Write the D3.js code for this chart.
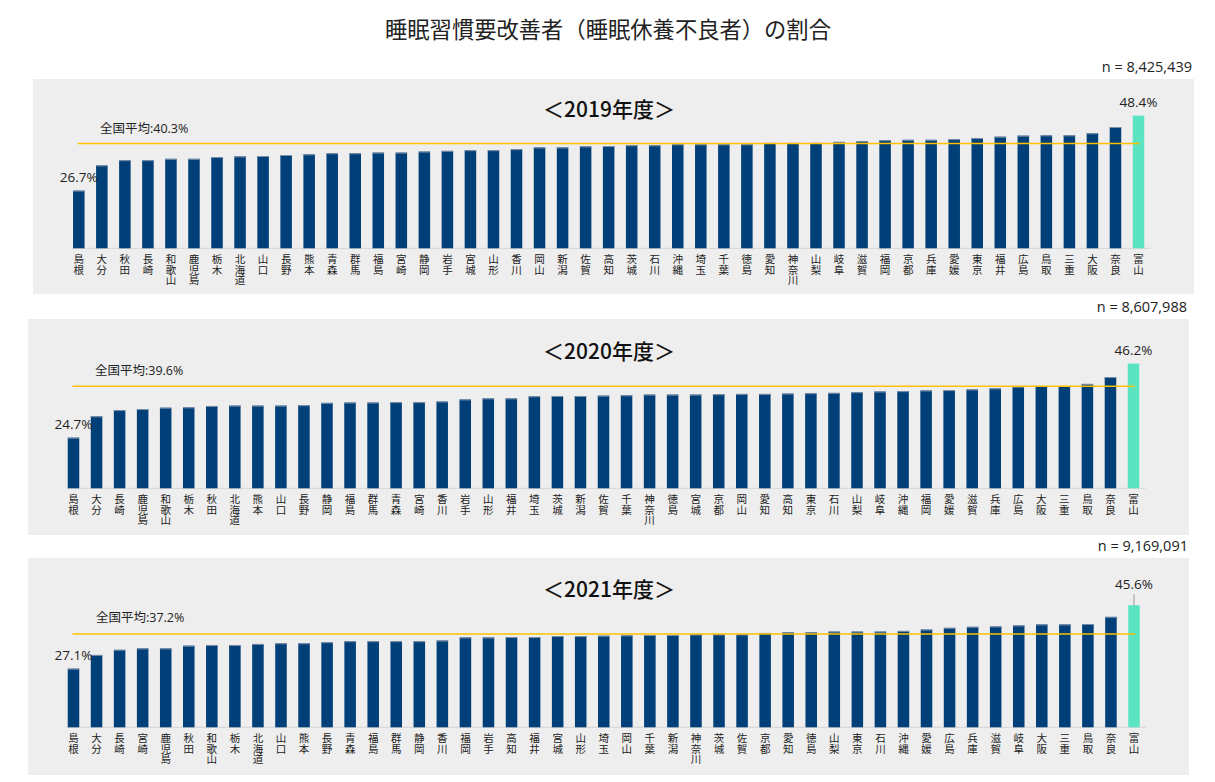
<!DOCTYPE html>
<html lang="ja">
<head>
<meta charset="utf-8">
<script src="https://cdn.jsdelivr.net/npm/d3@7"></script>
<style>
  html, body { margin: 0; padding: 0; background: #fff; }
  svg { display: block; font-family: "Open Sans", "Noto Sans CJK JP", sans-serif; }
  .tick text {
    font-size: 10.5px;
    fill: #222;
    font-family: "Noto Sans CJK JP", sans-serif;
    writing-mode: vertical-rl;
    text-orientation: upright;
    letter-spacing: 0.2px;
  }
</style>
</head>
<body>
<div id="chart"></div>
<script>
// 睡眠習慣要改善者の割合 - three yearly panels, prefectures sorted ascending

const years = ['2019', '2020', '2021'];
const nLabels = ['n = 8,425,439', 'n = 8,607,988', 'n = 9,169,091'];
const averages = [40.3, 39.6, 37.2];

const prefs2019 = ['島根','大分','秋田','長崎','和歌山','鹿児島','栃木','北海道','山口','長野','熊本','青森','群馬','福島','宮崎','静岡','岩手','宮城','山形','香川','岡山','新潟','佐賀','高知','茨城','石川','沖縄','埼玉','千葉','徳島','愛知','神奈川','山梨','岐阜','滋賀','福岡','京都','兵庫','愛媛','東京','福井','広島','鳥取','三重','大阪','奈良','富山'];
const values2019 = [26.7,34.0,35.5,35.5,35.9,35.9,36.4,36.6,36.7,37.0,37.2,37.5,37.5,37.7,37.7,38.0,38.2,38.4,38.4,38.7,39.2,39.2,39.5,39.6,39.8,39.8,40.1,40.1,40.1,40.1,40.5,40.5,40.5,40.8,41.0,41.3,41.4,41.4,41.6,41.9,42.3,42.6,42.7,42.7,43.3,45.1,48.4];

const prefs2020 = ['島根','大分','長崎','鹿児島','和歌山','栃木','秋田','北海道','熊本','山口','長野','静岡','福島','群馬','青森','宮崎','香川','岩手','山形','福井','埼玉','茨城','新潟','佐賀','千葉','神奈川','徳島','宮城','京都','岡山','愛知','高知','東京','石川','山梨','岐阜','沖縄','福岡','愛媛','滋賀','兵庫','広島','大阪','三重','鳥取','奈良','富山'];
const values2020 = [24.7,30.9,32.7,33.0,33.4,33.5,33.9,34.0,34.0,34.0,34.1,34.8,34.9,34.9,35.0,35.0,35.2,35.8,36.1,36.1,36.7,36.8,36.8,36.9,37.0,37.2,37.2,37.2,37.3,37.4,37.4,37.5,37.6,37.7,37.9,38.1,38.2,38.4,38.5,38.7,39.0,39.5,39.7,39.7,40.3,42.3,46.2];

const prefs2021 = ['島根','大分','長崎','宮崎','鹿児島','秋田','和歌山','栃木','北海道','山口','熊本','長野','青森','福島','群馬','静岡','香川','福岡','岩手','高知','福井','宮城','山形','埼玉','岡山','千葉','新潟','神奈川','茨城','佐賀','京都','愛知','徳島','山梨','東京','石川','沖縄','愛媛','広島','兵庫','滋賀','岐阜','大阪','三重','鳥取','奈良','富山'];
const values2021 = [27.1,31.1,32.6,33.0,33.0,33.8,34.0,34.0,34.3,34.5,34.5,34.8,35.1,35.1,35.1,35.1,35.3,36.2,36.2,36.3,36.3,36.6,36.6,36.7,36.8,36.9,36.9,37.1,37.1,37.1,37.5,37.7,37.7,37.9,37.9,37.9,38.1,38.5,39.0,39.3,39.4,39.7,40.0,40.0,40.1,42.2,45.6];

const prefLists = [prefs2019, prefs2020, prefs2021];
const valueLists = [values2019, values2020, values2021];

// Panel geometry (page pixels)
const layout = [
    { x0: 33, x1: 1194, y0: 79,  y1: 294, base: 248.3, top: 110.1, first: 78.8, last: 1138.5, nY: 72,  nX: 1192, titleY: 117, avgX: 100, avgY: 133, lift: 9 },
    { x0: 28, x1: 1189, y0: 319, y1: 535, base: 488.3, top: 350.5, first: 73.5, last: 1133.5, nY: 312, nX: 1187, titleY: 359, avgX: 95,  avgY: 375, lift: 9 },
    { x0: 28, x1: 1189, y0: 558, y1: 775, base: 727.3, top: 590.1, first: 73.5, last: 1134,   nY: 551, nX: 1188, titleY: 597, avgX: 96,  avgY: 622, lift: 16, leader: true }
];

const barColor = '#013f78';
const topColor = '#5ae4c2';
const avgColor = '#ffc000';

const width = 1215;
const height = 782;

const svg = d3.select('#chart')
    .append('svg')
    .attr('width', width)
    .attr('height', height);

svg.append('rect')
    .attr('width', width)
    .attr('height', height)
    .attr('fill', '#fff');

// Main title
svg.append('text')
    .attr('x', 608)
    .attr('y', 38)
    .attr('text-anchor', 'middle')
    .attr('font-family', '"Noto Sans CJK JP", sans-serif')
    .attr('font-size', 22.3)
    .attr('fill', '#222')
    .text('睡眠習慣要改善者（睡眠休養不良者）の割合');

function drawPanel(i) {
    const L = layout[i];
    const prefs = prefLists[i];
    const values = valueLists[i];
    const n = prefs.length;
    const g = svg.append('g').attr('class', 'panel');

    // n label above panel
    g.append('text')
        .attr('x', L.nX)
        .attr('y', L.nY)
        .attr('text-anchor', 'end')
        .attr('font-size', 14.5)
        .attr('fill', '#222')
        .text(nLabels[i]);

    // Background
    g.append('rect')
        .attr('x', L.x0)
        .attr('y', L.y0)
        .attr('width', L.x1 - L.x0)
        .attr('height', L.y1 - L.y0)
        .attr('fill', '#eeeeee');

    // Panel title
    g.append('text')
        .attr('x', 609)
        .attr('y', L.titleY)
        .attr('text-anchor', 'middle')
        .attr('font-family', '"Noto Sans CJK JP", sans-serif')
        .attr('font-size', 21)
        .attr('font-weight', 500)
        .attr('fill', '#111')
        .text('＜' + years[i] + '年度＞');

    // Scales
    const step = (L.last - L.first) / (n - 1);
    const x = d3.scaleBand()
        .domain(prefs)
        .range([L.first - step * 0.75, L.last + step * 0.75])
        .padding(0.5);

    const y = d3.scaleLinear()
        .domain([10, 50])
        .range([L.base, L.top]);

    // Baseline
    g.append('line')
        .attr('x1', x(prefs[0]) + x.bandwidth() / 2 - 7)
        .attr('x2', x(prefs[n - 1]) + x.bandwidth() / 2 + 12)
        .attr('y1', L.base)
        .attr('y2', L.base)
        .attr('stroke', '#d4d4d4')
        .attr('stroke-width', 1);

    // Bars
    const bars = g.selectAll('g.bar')
        .data(prefs)
        .join('g')
        .attr('class', 'bar');

    bars.append('rect')
        .attr('x', d => x(d))
        .attr('y', (d, j) => y(values[j]))
        .attr('width', x.bandwidth())
        .attr('height', (d, j) => L.base - y(values[j]))
        .attr('fill', (d, j) => j === n - 1 ? topColor : barColor);

    // thin light edge on the bar tops
    bars.filter((d, j) => j < n - 1)
        .append('line')
        .attr('x1', d => x(d))
        .attr('x2', d => x(d) + x.bandwidth())
        .attr('y1', (d, j) => y(values[j]) + 0.5)
        .attr('y2', (d, j) => y(values[j]) + 0.5)
        .attr('stroke', '#7e90a8')
        .attr('stroke-width', 1);

    // National average line
    const avgY = y(averages[i]);
    g.append('line')
        .attr('x1', x(prefs[0]) + x.bandwidth() / 2 - 1)
        .attr('x2', x(prefs[n - 1]) + x.bandwidth() / 2 + 1)
        .attr('y1', avgY)
        .attr('y2', avgY)
        .attr('stroke', avgColor)
        .attr('stroke-width', 1.5);

    g.append('text')
        .attr('x', L.avgX)
        .attr('y', L.avgY)
        .attr('font-size', 12.5)
        .attr('fill', '#222')
        .text('全国平均:' + averages[i].toFixed(1) + '%');

    // Min / max value labels
    const cx = j => x(prefs[j]) + x.bandwidth() / 2;
    g.append('text')
        .attr('x', cx(0))
        .attr('y', y(values[0]) - 9)
        .attr('text-anchor', 'middle')
        .attr('font-size', 13.5)
        .attr('fill', '#222')
        .text(values[0].toFixed(1) + '%');

    g.append('text')
        .attr('x', cx(n - 1))
        .attr('y', y(values[n - 1]) - L.lift)
        .attr('text-anchor', 'middle')
        .attr('font-size', 13.5)
        .attr('fill', '#222')
        .text(values[n - 1].toFixed(1) + '%');

    if (L.leader) {
        g.append('line')
            .attr('x1', cx(n - 1))
            .attr('x2', cx(n - 1))
            .attr('y1', y(values[n - 1]) - L.lift + 5)
            .attr('y2', y(values[n - 1]))
            .attr('stroke', '#999')
            .attr('stroke-width', 1);
    }

    // Category axis, names written top to bottom
    const axis = d3.axisBottom(x).tickSize(0).tickPadding(0);
    const ax = g.append('g')
        .attr('transform', `translate(0,${L.base})`)
        .call(axis);
    ax.select('.domain').remove();
    ax.selectAll('.tick text')
        .attr('dy', null)
        .attr('x', 0)
        .attr('y', 5.5)
        .attr('text-anchor', 'start');
}

years.forEach((yr, i) => drawPanel(i));
</script>
</body>
</html>
